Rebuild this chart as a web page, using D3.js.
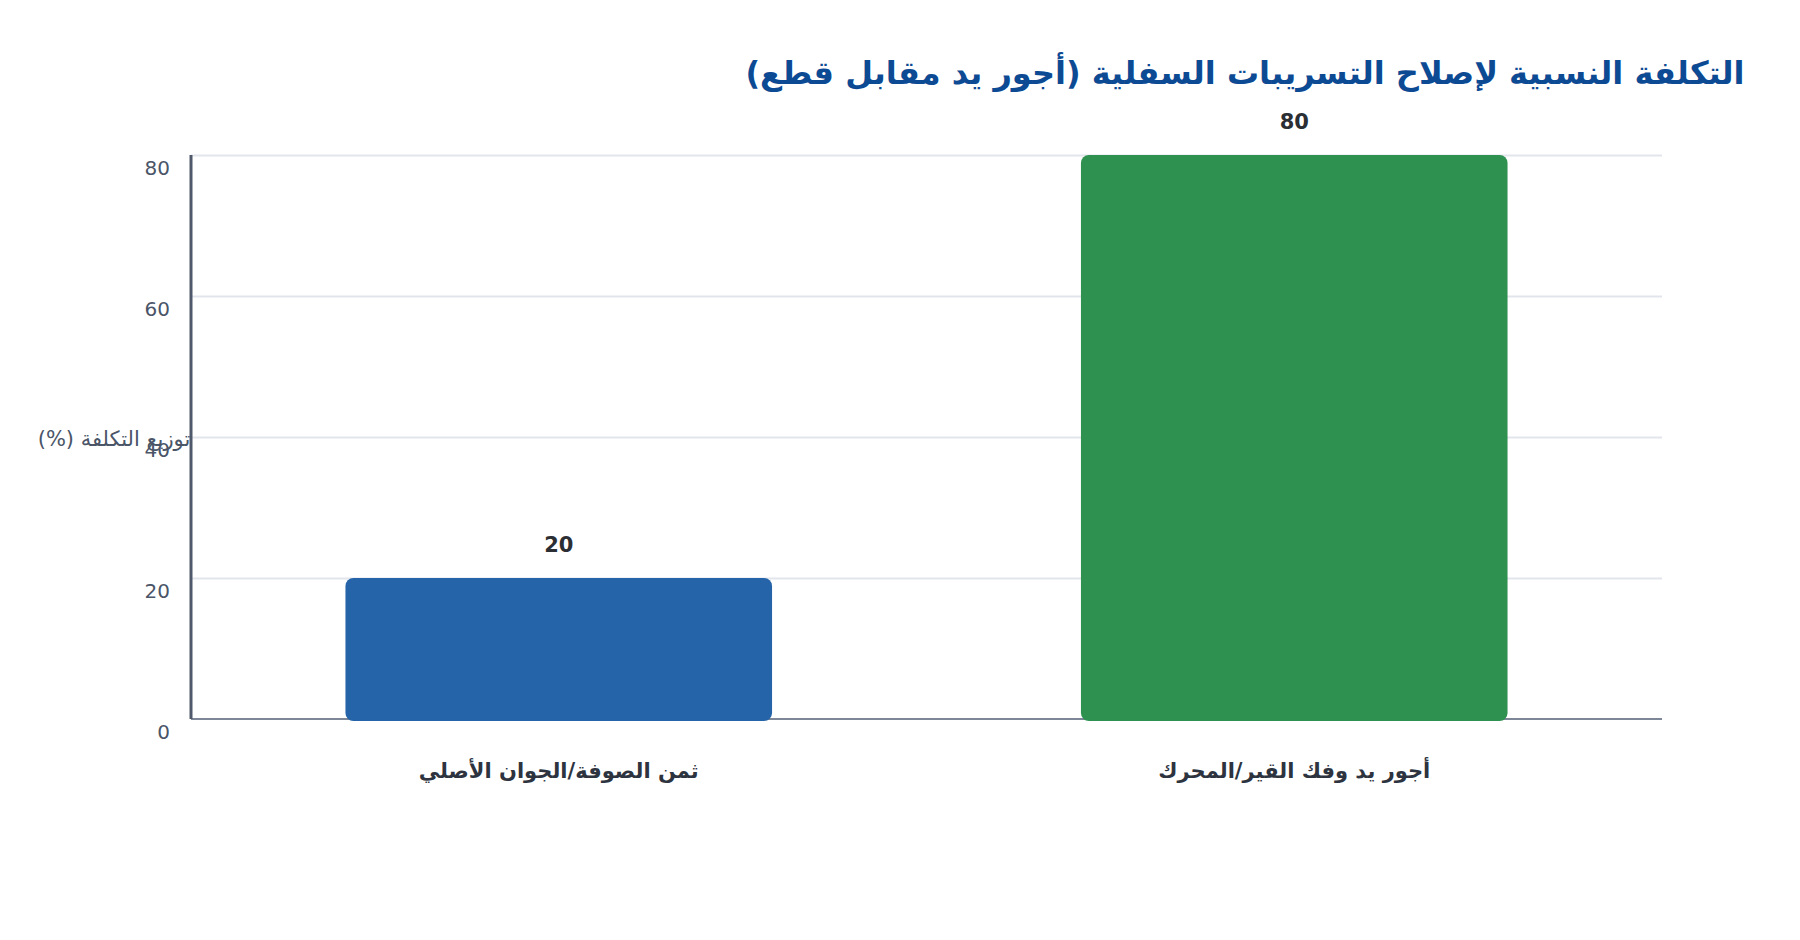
<!DOCTYPE html>
<html lang="ar">
<head>
<meta charset="utf-8">
<script src="https://cdn.jsdelivr.net/npm/d3@7/dist/d3.min.js"></script>
<style>
  html, body { margin: 0; padding: 0; background: #ffffff; }
  body { width: 1800px; height: 940px; overflow: hidden; font-family: "DejaVu Sans", sans-serif; }
  .grid line { stroke: #e2e6ec; stroke-width: 2; }
  .grid path { display: none; }
  .y-axis path, .y-axis line { display: none; }
  .y-axis text { fill: #4a5568; font-size: 20px; font-family: "DejaVu Sans", sans-serif; }
  .rtl { direction: rtl; unicode-bidi: embed; }
</style>
</head>
<body>
<svg id="chart" width="1800" height="940"></svg>
<script>
"use strict";

const titleText = "التكلفة النسبية لإصلاح التسريبات السفلية (أجور يد مقابل قطع)";
const yAxisTitle = "توزيع التكلفة (%)";
const categories = ["ثمن الصوفة/الجوان الأصلي", "أجور يد وفك القير/المحرك"];
const values = [20, 80];
const barColors = ["#2564a8", "#2e9150"];
const yTicks = [0, 20, 40, 60, 80];

const dims = { width: 1800, height: 940, marginTop: 155, marginRight: 138, marginBottom: 221, marginLeft: 191 };
dims.graphWidth = dims.width - dims.marginLeft - dims.marginRight;
dims.graphHeight = dims.height - dims.marginTop - dims.marginBottom;

const svg = d3.select("#chart");
const graph = svg.append("g")
  .attr("transform", `translate(${dims.marginLeft}, ${dims.marginTop})`);

const x = d3.scaleBand()
  .domain(categories)
  .range([0, dims.graphWidth])
  .paddingInner(0.42)
  .paddingOuter(0.21);

const y = d3.scaleLinear()
  .domain([0, 80])
  .range([dims.graphHeight, 0]);

// gridlines
graph.append("g")
  .attr("class", "grid")
  .call(d3.axisLeft(y).tickValues(yTicks.filter((t) => t > 0)).tickSize(-dims.graphWidth).tickFormat(""));

// y axis tick labels (sit a little below each gridline)
const yAxisGroup = graph.append("g")
  .attr("class", "y-axis")
  .call(d3.axisLeft(y).tickValues(yTicks).tickSize(0).tickPadding(21));
yAxisGroup.selectAll("text").attr("y", 13);

// bottom axis line
graph.append("line")
  .attr("x1", 0)
  .attr("x2", dims.graphWidth)
  .attr("y1", y(0))
  .attr("y2", y(0))
  .attr("stroke", "#7d8798")
  .attr("stroke-width", 2);

// left axis line
graph.append("line")
  .attr("x1", 0)
  .attr("x2", 0)
  .attr("y1", y(80))
  .attr("y2", y(0))
  .attr("stroke", "#4f596b")
  .attr("stroke-width", 3);

// bars
graph.selectAll("rect.bar")
  .data(values)
  .join("rect")
  .attr("class", "bar")
  .attr("x", (d, i) => x(categories[i]))
  .attr("width", x.bandwidth())
  .attr("y", (d) => y(d))
  .attr("height", (d) => y(0) - y(d) + 2)
  .attr("rx", 8)
  .attr("fill", (d, i) => barColors[i]);

// value labels
graph.selectAll("text.value")
  .data(values)
  .join("text")
  .attr("class", "value")
  .attr("x", (d, i) => x(categories[i]) + x.bandwidth() / 2)
  .attr("y", (d) => y(d) - 32)
  .attr("text-anchor", "middle")
  .attr("dominant-baseline", "middle")
  .attr("font-size", 21)
  .attr("font-weight", "bold")
  .attr("fill", "#2b2e33")
  .text((d) => d);

// category labels
graph.selectAll("text.cat")
  .data(categories)
  .join("text")
  .attr("class", "cat rtl")
  .attr("x", (d) => x(d) + x.bandwidth() / 2)
  .attr("y", dims.graphHeight + 53)
  .attr("text-anchor", "middle")
  .attr("dominant-baseline", "middle")
  .attr("font-size", 21)
  .attr("font-weight", "bold")
  .attr("fill", "#2d3440")
  .text((d) => d);

// y axis title
svg.append("text")
  .attr("class", "rtl")
  .attr("x", 114)
  .attr("y", 440)
  .attr("text-anchor", "middle")
  .attr("dominant-baseline", "middle")
  .attr("font-size", 21)
  .attr("fill", "#4a5568")
  .text(yAxisTitle);

// title
svg.append("text")
  .attr("class", "rtl")
  .attr("x", 1245)
  .attr("y", 75)
  .attr("text-anchor", "middle")
  .attr("dominant-baseline", "middle")
  .attr("font-size", 32)
  .attr("font-weight", "bold")
  .attr("fill", "#0d4a94")
  .text(titleText);
</script>
</body>
</html>
